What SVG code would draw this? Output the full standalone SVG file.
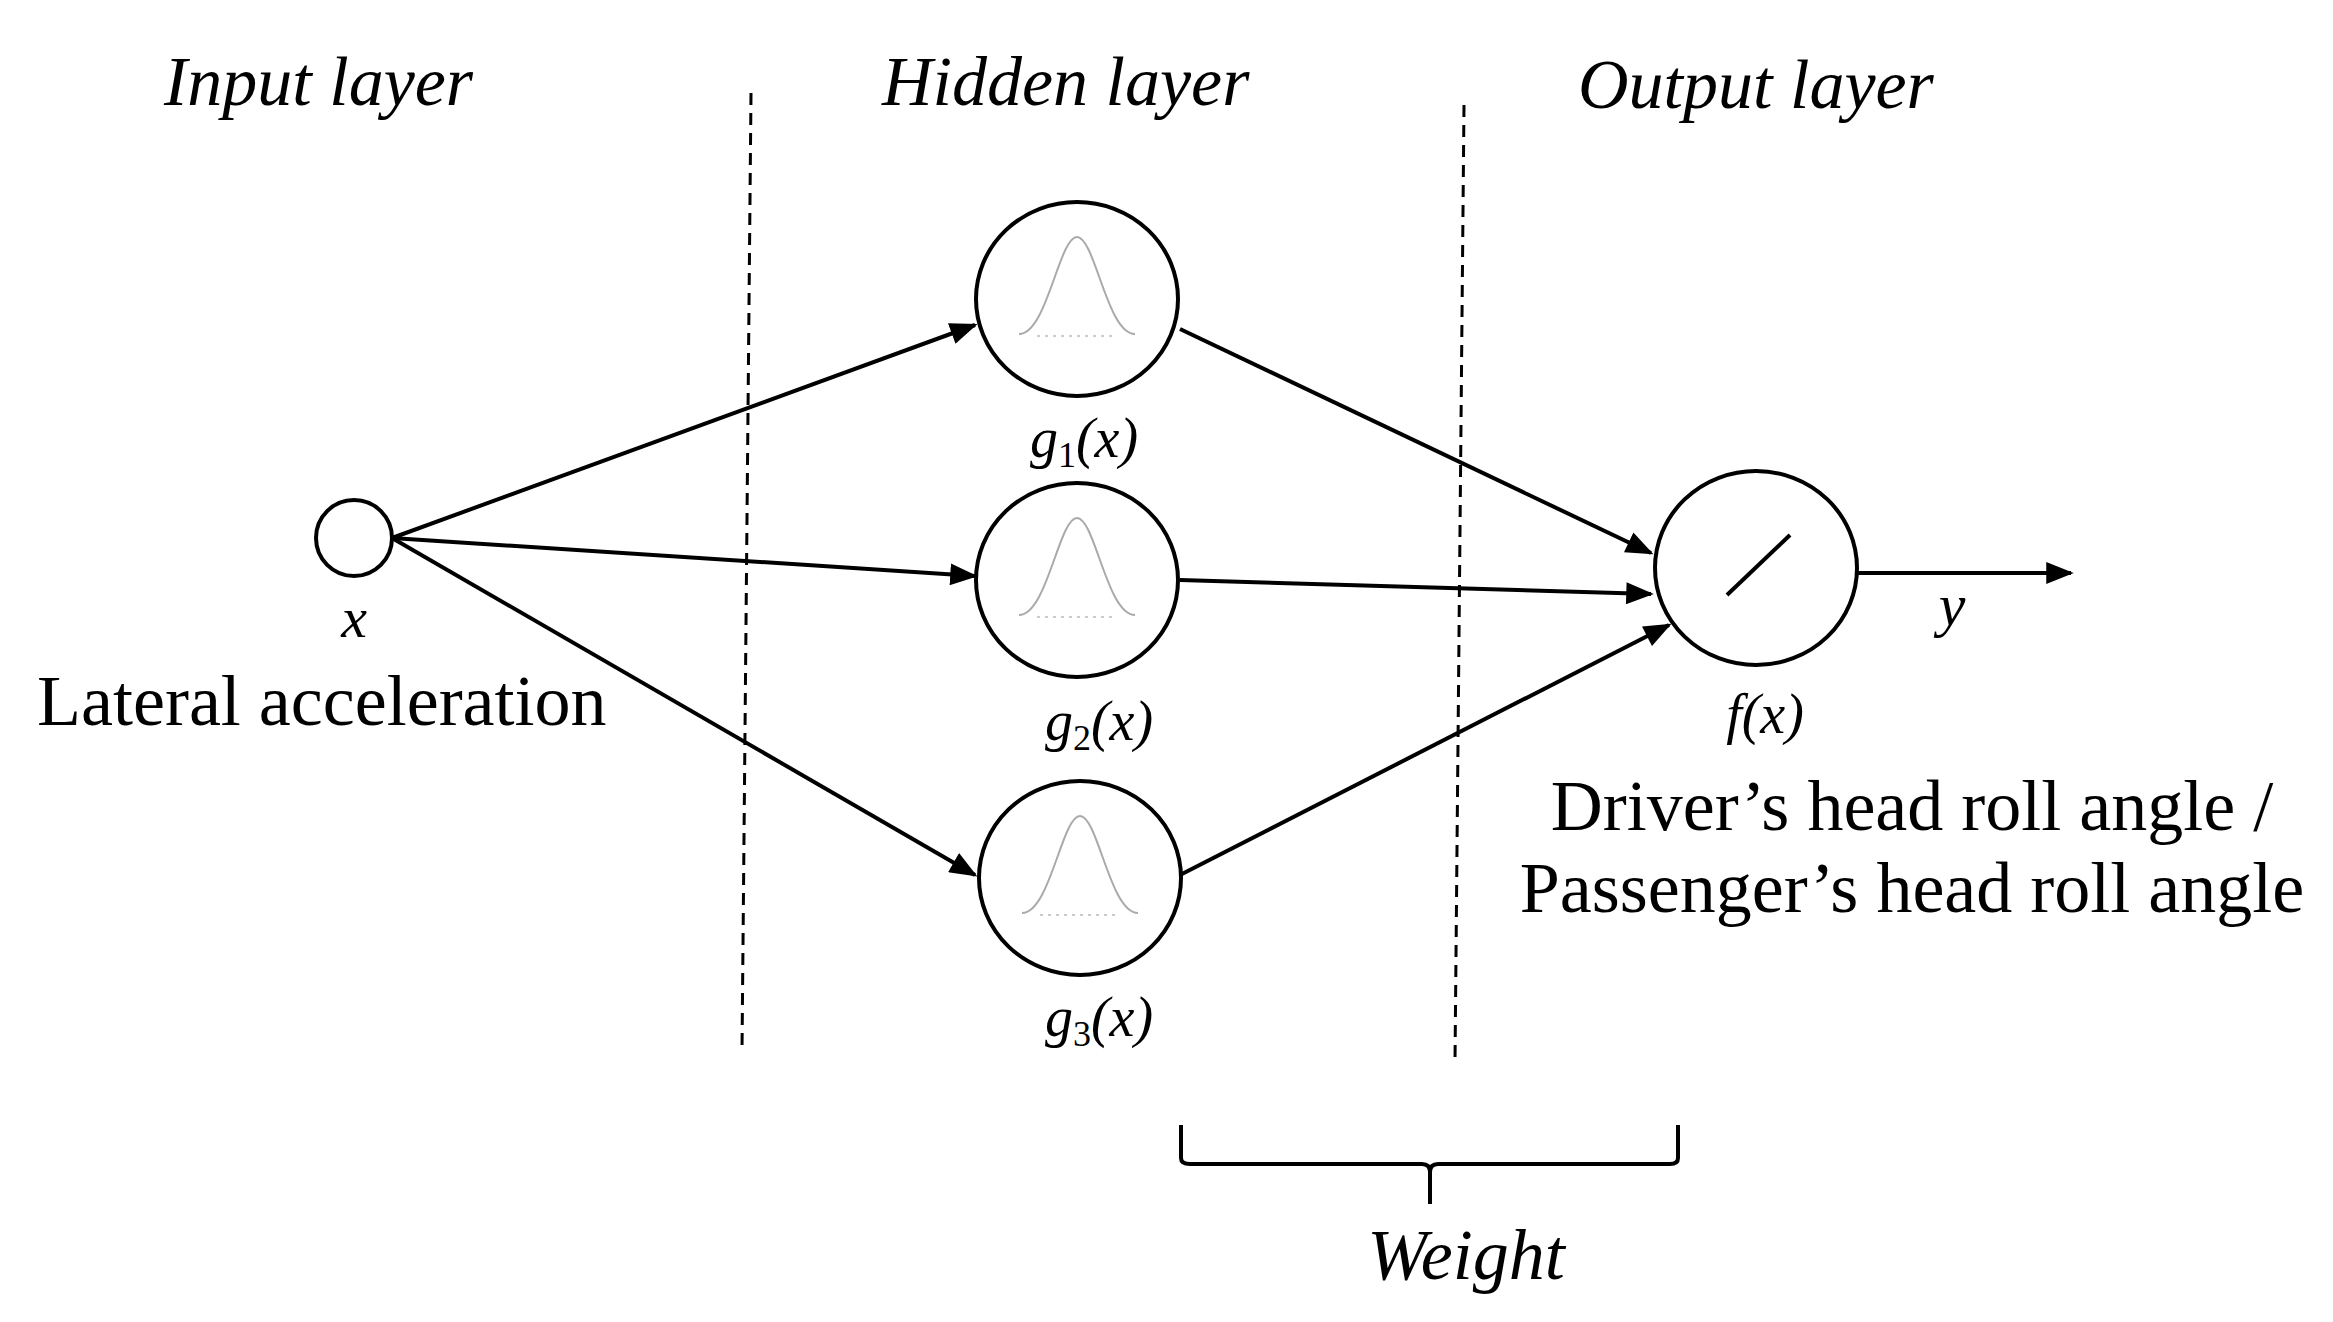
<svg xmlns="http://www.w3.org/2000/svg" width="2333" height="1322" viewBox="0 0 2333 1322">
<style>
.t{font-family:"Liberation Serif","Times New Roman",serif;fill:#000}
.i{font-style:italic}
.n{fill:#fff;stroke:#000;stroke-width:4}
.c{stroke:#000;stroke-width:4;fill:none}
.g{stroke:#aaa;stroke-width:2;fill:none}
.gd{stroke:#ccc;stroke-width:2;stroke-dasharray:3 5}
.d{stroke:#000;stroke-width:3;stroke-dasharray:12 8}
</style>
<defs>
<marker id="ah" viewBox="0 0 10 8" refX="9" refY="4" markerWidth="28" markerHeight="22" orient="auto" markerUnits="userSpaceOnUse"><path d="M0,0L10,4L0,8z" fill="#000"/></marker>
<path id="gauss" d="M-58,35 C-30,35 -18,-62 0,-62 C18,-62 30,35 58,35"/>
</defs>
<rect width="2333" height="1322" fill="#fff"/>
<text class="t i" x="164" y="105" font-size="70">Input layer</text>
<text class="t i" x="882" y="105" font-size="70">Hidden layer</text>
<text class="t i" x="1578" y="108" font-size="70">Output layer</text>
<line class="d" x1="751" y1="93" x2="742" y2="1051"/>
<line class="d" x1="1464" y1="105" x2="1455" y2="1062"/>
<g id="connectors">
<line class="c" x1="392" y1="538" x2="975" y2="325" marker-end="url(#ah)"/>
<line class="c" x1="392" y1="538" x2="975" y2="576" marker-end="url(#ah)"/>
<line class="c" x1="392" y1="538" x2="975" y2="875" marker-end="url(#ah)"/>
<line class="c" x1="1180" y1="329" x2="1651" y2="553" marker-end="url(#ah)"/>
<line class="c" x1="1180" y1="580" x2="1651" y2="594" marker-end="url(#ah)"/>
<line class="c" x1="1180" y1="875" x2="1669" y2="625" marker-end="url(#ah)"/>
<line class="c" x1="1857" y1="573" x2="2071" y2="573" marker-end="url(#ah)"/>
</g>
<g id="input">
<circle class="n" cx="354" cy="538" r="38"/>
<text class="t i" x="354" y="637" font-size="58" text-anchor="middle">x</text>
<text class="t" x="37" y="725" font-size="72">Lateral acceleration</text>
</g>
<g id="g1">
<ellipse class="n" cx="1077" cy="299" rx="101" ry="97"/>
<use href="#gauss" x="1077" y="299" class="g"/>
<line class="gd" x1="1037" y1="336" x2="1117" y2="336"/>
<text class="t i" x="1084" y="457" font-size="56" text-anchor="middle">g<tspan font-size="36" dy="10" font-style="normal">1</tspan><tspan dy="-10">(x)</tspan></text>
</g>
<g id="g2">
<ellipse class="n" cx="1077" cy="580" rx="101" ry="97"/>
<use href="#gauss" x="1077" y="580" class="g"/>
<line class="gd" x1="1037" y1="617" x2="1117" y2="617"/>
<text class="t i" x="1099" y="740" font-size="56" text-anchor="middle">g<tspan font-size="36" dy="10" font-style="normal">2</tspan><tspan dy="-10">(x)</tspan></text>
</g>
<g id="g3">
<ellipse class="n" cx="1080" cy="878" rx="101" ry="97"/>
<use href="#gauss" x="1080" y="878" class="g"/>
<line class="gd" x1="1040" y1="915" x2="1120" y2="915"/>
<text class="t i" x="1099" y="1036" font-size="56" text-anchor="middle">g<tspan font-size="36" dy="10" font-style="normal">3</tspan><tspan dy="-10">(x)</tspan></text>
</g>
<g id="f">
<ellipse class="n" cx="1756" cy="568" rx="101" ry="97"/>
<line class="c" x1="1727" y1="595" x2="1790" y2="535" stroke-width="3"/>
<text class="t i" x="1765" y="733" font-size="56" text-anchor="middle">f(x)</text>
<text class="t i" x="1952" y="625" font-size="60" text-anchor="middle">y</text>
<text class="t" x="1912" y="830" font-size="72" text-anchor="middle">Driver’s head roll angle /</text>
<text class="t" x="1912" y="912" font-size="72" text-anchor="middle">Passenger’s head roll angle</text>
</g>
<g id="weight">
<path class="c" stroke-width="3" d="M1181,1125 V1158 Q1181,1164 1190,1164 H1422 Q1430,1164 1430,1172 V1204 M1430,1172 Q1430,1164 1438,1164 H1670 Q1678,1164 1678,1158 V1125"/>
<text class="t i" x="1466" y="1279" font-size="72" text-anchor="middle">Weight</text>
</g>
</svg>
